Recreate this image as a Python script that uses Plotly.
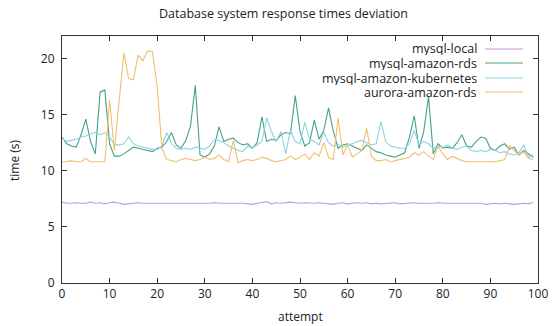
import plotly.graph_objects as go

attempts = list(range(100))

mysql_local = [
    7.2, 7.1, 7.1, 7.15, 7.1, 7.1, 7.2, 7.1, 7.15, 7.05, 7.15, 7.2, 7.1, 7.0, 7.05, 7.1, 7.15, 7.1, 7.1, 7.05,
    7.1, 7.1, 7.1, 7.05, 7.1, 7.1, 7.1, 7.05, 7.1, 7.05, 7.05, 7.1, 7.15, 7.1, 7.1, 7.1, 7.1, 7.15, 7.1, 7.05,
    7.0, 7.1, 7.15, 7.25, 7.05, 7.15, 7.1, 7.15, 7.2, 7.15, 7.1, 7.15, 7.1, 7.1, 7.15, 7.1, 7.05, 7.0, 7.1, 7.15,
    7.05, 7.1, 7.15, 7.1, 7.15, 7.05, 7.1, 7.05, 7.1, 7.1, 7.15, 7.05, 7.1, 7.1, 7.15, 7.1, 7.1, 7.05, 7.1, 7.15,
    7.1, 7.1, 7.1, 7.1, 7.15, 7.1, 7.1, 7.1, 7.1, 7.0, 7.05, 7.1, 7.05, 7.1, 7.05, 7.0, 7.05, 7.1, 7.05, 7.2,
]

mysql_amazon_rds = [
    13.0, 12.4, 12.2, 12.1, 13.2, 14.6, 12.6, 11.5, 17.0, 17.2,
    12.4, 11.3, 11.3, 11.5, 11.8, 12.1, 12.0, 11.9, 11.8, 11.7,
    12.0, 12.1, 12.6, 13.4, 12.3, 12.0, 12.7, 14.0, 17.6, 11.4,
    11.2, 11.5, 12.2, 13.9, 12.6, 12.8, 12.9, 12.5, 12.3, 12.4,
    12.0, 12.5, 14.8, 12.6, 12.8, 12.7, 13.2, 13.4, 13.3, 16.7,
    13.5, 12.2, 12.5, 14.5, 12.8, 13.6, 15.6, 13.5, 12.0, 12.3,
    12.4, 12.2, 12.0, 11.8, 12.3, 12.0, 11.7, 11.6, 11.4, 11.3,
    11.2, 11.4, 11.6, 13.0, 14.9, 12.0, 13.5, 16.6, 11.5, 12.4,
    12.0, 12.1, 12.0, 12.5, 13.2, 12.2, 12.1, 12.6, 13.0, 12.9,
    12.0, 11.8, 12.2, 12.4, 11.9, 12.1, 11.4, 11.8, 11.5, 11.2,
]

mysql_amazon_kubernetes = [
    12.9, 12.6, 12.7, 12.8, 13.0, 13.1, 13.3, 13.4, 13.2, 13.4,
    13.0, 12.3, 12.3, 12.4, 13.0, 12.4, 12.2, 12.1, 12.0, 11.9,
    11.9, 12.2, 13.4, 12.4, 12.0, 11.9, 12.0, 11.9, 12.1, 12.0,
    11.9, 12.2, 12.8, 12.7, 12.5, 12.2, 12.0, 11.8, 11.7, 12.2,
    12.0, 12.3, 12.6, 14.7, 13.5, 12.6, 13.5, 11.5, 13.6, 12.6,
    12.4, 14.3, 12.8, 12.6, 12.3, 13.4, 12.5, 12.2, 12.4, 12.1,
    12.3, 12.4, 12.6, 12.7, 12.5, 12.3, 12.4, 14.4, 12.6, 12.2,
    12.1, 12.0, 12.0, 12.4, 13.6, 12.3, 12.6, 12.4, 12.0, 12.2,
    12.1, 12.3, 12.0, 11.9, 12.1, 12.2, 11.8, 11.7, 11.8, 11.7,
    11.9, 11.8, 11.6, 11.7, 11.5, 11.4, 11.6, 12.3, 11.2, 11.4,
]

aurora_amazon_rds = [
    10.8, 10.8, 10.9, 10.8, 10.8, 11.1, 10.8, 10.8, 10.8, 10.8,
    16.3, 11.8, 16.2, 20.5, 18.2, 18.1, 20.3, 19.8, 20.7, 20.6,
    17.5, 12.0, 11.0, 10.9, 10.8, 11.0, 11.1, 11.0, 10.9, 11.0,
    11.2, 11.0, 11.1, 11.4, 11.0, 10.8, 12.7, 10.7, 10.9, 11.0,
    10.9, 11.0, 11.2, 11.1, 10.9, 10.8, 10.9, 11.0, 11.3, 11.0,
    11.2, 11.5, 11.0, 11.6, 11.3, 12.5, 11.2, 11.0, 14.7, 11.4,
    12.3, 11.2, 11.5, 11.8, 13.8, 11.3, 10.9, 10.9, 11.0, 10.8,
    10.9, 11.0, 11.1, 11.2, 11.6, 11.4, 11.7, 11.3, 11.0, 12.2,
    11.5, 11.0, 11.3, 11.1, 10.9, 10.8, 10.8, 10.8, 10.8, 10.8,
    10.8, 10.8, 10.9, 11.0, 12.2, 11.8, 11.4, 11.7, 11.1, 11.0,
]

series_names = ["mysql-local", "mysql-amazon-rds", "mysql-amazon-kubernetes", "aurora-amazon-rds"]
series_values = [mysql_local, mysql_amazon_rds, mysql_amazon_kubernetes, aurora_amazon_rds]
series_colors = ["#c49ae2", "#46a283", "#8fd2e4", "#efc16c"]

x_ticks = [0, 10, 20, 30, 40, 50, 60, 70, 80, 90, 100]
y_ticks = [0, 5, 10, 15, 20]

FONT = "Open Sans"

fig = go.Figure()
for name, vals, col in zip(series_names, series_values, series_colors):
    fig.add_trace(go.Scatter(x=attempts, y=vals, mode="lines", name=name,
                             line=dict(color=col, width=1.1), showlegend=False))

L, R, T, B = 62, 538, 36, 283
W, H = 553, 326


def px_x(px):
    return (px - L) / (R - L)


def px_y(py):
    return 1 - (py - T) / (B - T)


# gnuplot-style legend: right-aligned text with line sample to its right
legend_y = [49, 63, 78, 92]
for name, col, yy in zip(series_names, series_colors, legend_y):
    fig.add_annotation(x=px_x(478), y=px_y(yy), xref="paper", yref="paper",
                       text=name, showarrow=False, xanchor="right", yanchor="middle",
                       height=13, borderpad=0,
                       font=dict(family=FONT, size=12.5, color="#222"))
    fig.add_shape(type="line", xref="paper", yref="paper",
                  x0=px_x(485), x1=px_x(523), y0=px_y(yy), y1=px_y(yy),
                  line=dict(color=col, width=1.1))

# axis titles as fixed-position annotations (do not shift the plot area)
fig.add_annotation(x=px_x(300), y=px_y(316), xref="paper", yref="paper", text="attempt",
                   showarrow=False, xanchor="center", yanchor="middle",
                   font=dict(family=FONT, size=12, color="#222"))
fig.add_annotation(x=px_x(14), y=px_y(160), xref="paper", yref="paper", text="time (s)",
                   showarrow=False, xanchor="center", yanchor="middle", textangle=-90,
                   font=dict(family=FONT, size=12, color="#222"))

axis_common = dict(showline=True, linecolor="#333", linewidth=1, mirror="ticks",
                   ticks="inside", ticklen=5, tickcolor="#333", showgrid=False,
                   zeroline=False, tickfont=dict(family=FONT, size=12, color="#222"))

fig.update_layout(
    width=W, height=H,
    margin=dict(l=L, r=W - R, t=T, b=H - B, autoexpand=False),
    paper_bgcolor="white", plot_bgcolor="white",
    title=dict(text="Database system response times deviation", x=283.5 / W, xanchor="center",
               y=1 - 14 / H, yanchor="middle", font=dict(family=FONT, size=12.5, color="#222")),
    xaxis=dict(range=[0, 100], tickvals=x_ticks, **axis_common),
    yaxis=dict(range=[0, 22], tickvals=y_ticks, ticklabelstandoff=4, **axis_common),
)

fig.write_html("out.html")
